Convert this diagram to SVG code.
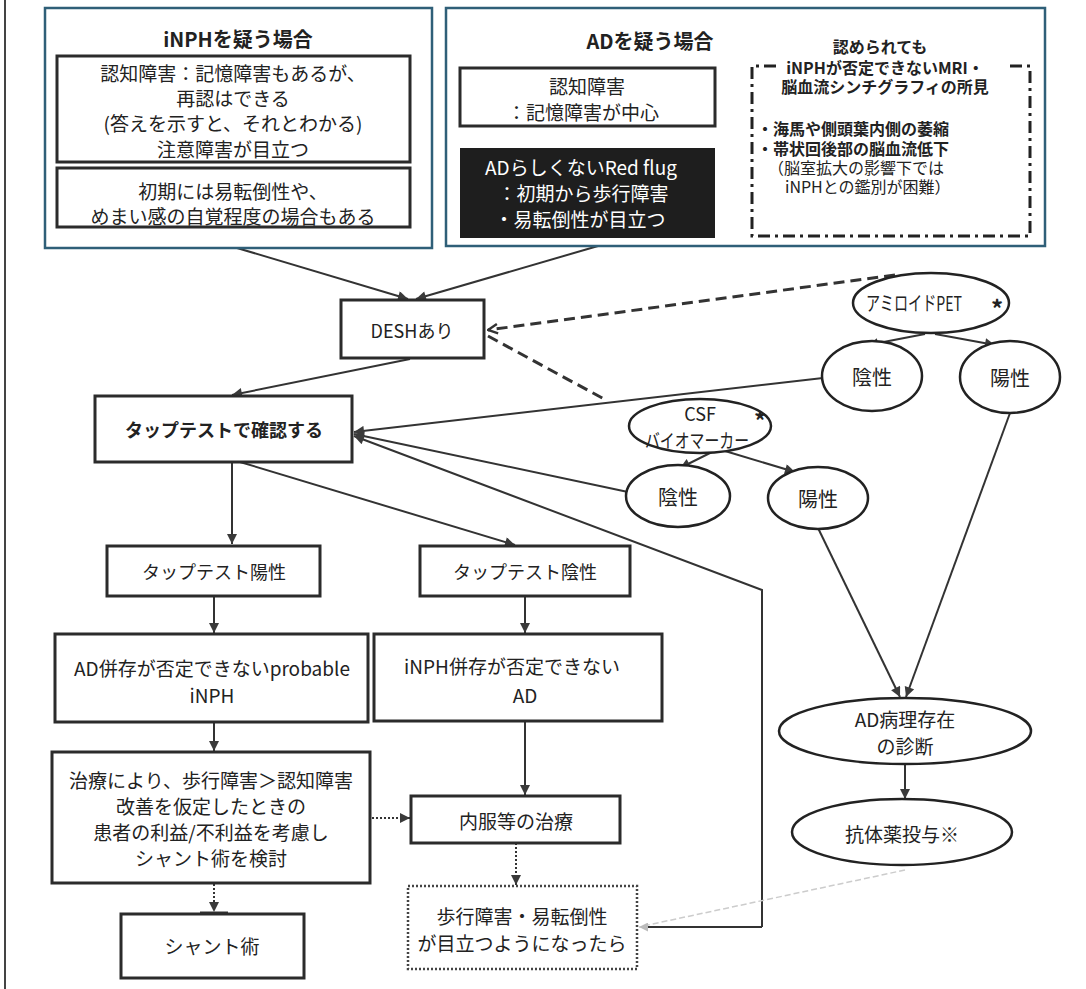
<svg xmlns="http://www.w3.org/2000/svg" width="1086" height="989" viewBox="0 0 1086 989">
<defs>
<style>
text{font-family:'Noto Sans CJK JP','Noto Sans',sans-serif;fill:#222;text-anchor:middle;dominant-baseline:central}
.bx{fill:#fff;stroke:#2b2b2b;stroke-width:3}
.bl{fill:#fff;stroke:#2f5f78;stroke-width:2.5}
.el{fill:#fff;stroke:#222;stroke-width:2.5}
.ln{fill:none;stroke:#333;stroke-width:2}
.dash{fill:none;stroke:#333;stroke-width:3;stroke-dasharray:11 6}
.dot{fill:none;stroke:#444;stroke-width:2.5;stroke-dasharray:2 2}
.t19{font-size:19px}
.t18{font-size:18px}
.t16{font-size:16px}
.b{font-weight:bold}
</style>
<marker id="ah" viewBox="0 0 10 10" refX="10" refY="5" markerWidth="12" markerHeight="10" markerUnits="userSpaceOnUse" orient="auto"><path d="M0,0 L10,5 L0,10 z" fill="#3a3a3a"/></marker>
<marker id="ao" viewBox="0 0 10 10" refX="9" refY="5" markerWidth="12" markerHeight="12" markerUnits="userSpaceOnUse" orient="auto"><path d="M1,1 L9,5 L1,9" fill="none" stroke="#333" stroke-width="2"/></marker>
<marker id="ag" viewBox="0 0 10 10" refX="10" refY="5" markerWidth="10" markerHeight="9" markerUnits="userSpaceOnUse" orient="auto"><path d="M0,0 L10,5 L0,10 z" fill="#bbb"/></marker>
</defs>
<rect width="1086" height="989" fill="#fff"/>
<line x1="5" y1="0" x2="5" y2="989" stroke="#444" stroke-width="2"/>

<g id="connectors">
<line class="ln" x1="237" y1="248" x2="408" y2="299" marker-end="url(#ah)"/>
<line class="ln" x1="598" y1="246" x2="416" y2="299" marker-end="url(#ah)"/>
<line class="dash" x1="895" y1="275" x2="488" y2="330" marker-end="url(#ao)"/>
<line class="dash" x1="488" y1="336" x2="604" y2="399"/>
<line class="ln" x1="410" y1="359" x2="232" y2="395" marker-end="url(#ah)"/>
<line class="ln" x1="925" y1="334" x2="868" y2="345" marker-end="url(#ah)"/>
<line class="ln" x1="935" y1="334" x2="995" y2="345" marker-end="url(#ah)"/>
<line class="ln" x1="823" y1="378" x2="354" y2="432" marker-end="url(#ah)"/>
<line class="ln" x1="712" y1="452" x2="680" y2="468" marker-end="url(#ah)"/>
<line class="ln" x1="725" y1="451" x2="795" y2="472" marker-end="url(#ah)"/>
<line class="ln" x1="628" y1="492" x2="354" y2="434" marker-end="url(#ah)"/>
<polyline class="ln" points="762,927 762,590 354,436" marker-end="url(#ah)"/>
<line x1="762" y1="927" x2="648" y2="927" stroke="#333" stroke-width="2"/>
<line x1="905" y1="870" x2="648" y2="925" stroke="#ccc" stroke-width="1.5" stroke-dasharray="6 3"/>
<line x1="648" y1="927" x2="639" y2="927" stroke="#bbb" stroke-width="1" marker-end="url(#ag)"/>
<line class="ln" x1="232" y1="462" x2="232" y2="544" marker-end="url(#ah)"/>
<line class="ln" x1="240" y1="462" x2="515" y2="545" marker-end="url(#ah)"/>
<line class="ln" x1="214" y1="596" x2="214" y2="633" marker-end="url(#ah)"/>
<line class="ln" x1="525" y1="596" x2="525" y2="633" marker-end="url(#ah)"/>
<line class="ln" x1="214" y1="722" x2="214" y2="751" marker-end="url(#ah)"/>
<line class="ln" x1="525" y1="722" x2="525" y2="795" marker-end="url(#ah)"/>
<line class="ln" x1="372" y1="818" x2="410" y2="818" stroke-dasharray="2 2" marker-end="url(#ah)"/>
<line class="ln" x1="516" y1="843" x2="516" y2="885" stroke-dasharray="2 2" marker-end="url(#ah)"/>
<line class="ln" x1="214" y1="884" x2="214" y2="912" stroke-dasharray="2 2" marker-end="url(#ah)"/>
<line x1="200" y1="913" x2="228" y2="913" stroke="#333" stroke-width="3"/>
<line class="ln" x1="1010" y1="413" x2="906" y2="697" marker-end="url(#ah)"/>
<line class="ln" x1="818" y1="528" x2="900" y2="697" marker-end="url(#ah)"/>
<line class="ln" x1="905" y1="764" x2="905" y2="799" marker-end="url(#ah)"/>
</g>

<g id="inph-group">
<rect class="bl" x="45" y="8" width="387" height="240"/>
<text x="238" y="38" class="b" font-size="20">iNPHを疑う場合</text>
</g>
<g id="inph-cog">
<rect class="bx" x="57" y="56" width="353" height="106"/>
<text x="233" y="72" class="t19">認知障害：記憶障害もあるが、</text>
<text x="233" y="97" class="t19">再認はできる</text>
<text x="233" y="122" class="t19">(答えを示すと、それとわかる)</text>
<text x="233" y="148" class="t19">注意障害が目立つ</text>
</g>
<g id="inph-early">
<rect class="bx" x="57" y="168" width="353" height="59"/>
<text x="233" y="190" class="t19">初期には易転倒性や、</text>
<text x="233" y="215" class="t19">めまい感の自覚程度の場合もある</text>
</g>

<g id="ad-group">
<rect class="bl" x="446" y="8" width="599" height="238"/>
<text x="650" y="40" class="b" font-size="20">ADを疑う場合</text>
</g>
<g id="ad-cog">
<rect class="bx" x="460" y="68" width="255" height="58"/>
<text x="587" y="85" class="t19">認知障害</text>
<text x="583" y="111" class="t19">：記憶障害が中心</text>
</g>
<g id="ad-redflag">
<rect x="460" y="148" width="255" height="90" fill="#1e1e1e"/>
<text x="581" y="166" class="t19" style="fill:#fff">ADらしくないRed flug</text>
<text x="583" y="192" class="t19" style="fill:#fff">：初期から歩行障害</text>
<text x="580" y="218" class="t19" style="fill:#fff">・易転倒性が目立つ</text>
</g>
<g id="ad-imaging">
<path d="M776,66 H752 V236 H1030 V66 H1006" fill="none" stroke="#222" stroke-width="3" stroke-dasharray="12 5 3 5"/>
<text x="880" y="46" class="b t16">認められても</text>
<text x="885" y="67" class="b t16">iNPHが否定できないMRI・</text>
<text x="885" y="86" class="b t16">脳血流シンチグラフィの所見</text>
<text x="757" y="128" class="b t16" style="text-anchor:start">・海馬や側頭葉内側の萎縮</text>
<text x="757" y="148" class="b t16" style="text-anchor:start">・帯状回後部の脳血流低下</text>
<text x="768" y="167" class="t16" style="text-anchor:start">（脳室拡大の影響下では</text>
<text x="785" y="186" class="t16" style="text-anchor:start">iNPHとの鑑別が困難）</text>
</g>

<g id="desh">
<rect class="bx" x="341" y="300" width="143" height="58"/>
<text x="412" y="330" class="t18">DESHあり</text>
</g>
<g id="amyloid-pet">
<ellipse class="el" cx="931" cy="303" rx="78" ry="30"/>
<text x="914" y="302" font-size="20" textLength="96" lengthAdjust="spacingAndGlyphs">アミロイドPET</text>
<text x="997" y="307" font-size="24" class="b">*</text>
</g>
<g id="pet-neg">
<ellipse class="el" cx="872" cy="376" rx="50" ry="35"/>
<text x="872" y="376" font-size="20">陰性</text>
</g>
<g id="pet-pos">
<ellipse class="el" cx="1010" cy="377" rx="50" ry="36"/>
<text x="1010" y="377" font-size="20">陽性</text>
</g>
<g id="csf">
<ellipse class="el" cx="700" cy="426" rx="71" ry="27"/>
<text x="700" y="413" class="t18">CSF</text>
<text x="697" y="439" font-size="19" textLength="104" lengthAdjust="spacingAndGlyphs">バイオマーカー</text>
<text x="760" y="419" font-size="24" class="b">*</text>
</g>
<g id="csf-neg">
<ellipse class="el" cx="678" cy="496" rx="52" ry="31"/>
<text x="678" y="496" font-size="20">陰性</text>
</g>
<g id="csf-pos">
<ellipse class="el" cx="818" cy="498" rx="50" ry="31"/>
<text x="818" y="498" font-size="20">陽性</text>
</g>
<g id="taptest">
<rect class="bx" x="95" y="396" width="257" height="66"/>
<text x="224" y="429" class="t18" font-weight="600">タップテストで確認する</text>
</g>
<g id="tap-pos">
<rect class="bx" x="107" y="546" width="213" height="50"/>
<text x="214" y="571" class="t18">タップテスト陽性</text>
</g>
<g id="tap-neg">
<rect class="bx" x="420" y="546" width="210" height="50"/>
<text x="525" y="571" class="t18">タップテスト陰性</text>
</g>
<g id="probable-inph">
<rect class="bx" x="55" y="634" width="313" height="88"/>
<text x="212" y="667" class="t19">AD併存が否定できないprobable</text>
<text x="212" y="694" class="t19">iNPH</text>
</g>
<g id="ad-inph">
<rect class="bx" x="374" y="634" width="288" height="87"/>
<text x="512" y="665" class="t19">iNPH併存が否定できない</text>
<text x="525" y="694" class="t19">AD</text>
</g>
<g id="consider-shunt">
<rect class="bx" x="52" y="752" width="318" height="131"/>
<text x="211" y="779" class="t19">治療により、歩行障害＞認知障害</text>
<text x="211" y="805" class="t19">改善を仮定したときの</text>
<text x="211" y="831" class="t19">患者の利益/不利益を考慮し</text>
<text x="211" y="857" class="t19">シャント術を検討</text>
</g>
<g id="oral">
<rect class="bx" x="411" y="796" width="209" height="47"/>
<text x="516" y="820" class="t19">内服等の治療</text>
</g>
<g id="worsen">
<rect class="dot" x="408" y="886" width="229" height="83"/>
<text x="522" y="915" class="t19">歩行障害・易転倒性</text>
<text x="522" y="942" class="t19">が目立つようになったら</text>
</g>
<g id="shunt">
<rect class="bx" x="121" y="914" width="183" height="64"/>
<text x="212" y="945" class="t19">シャント術</text>
</g>
<g id="ad-path">
<ellipse class="el" cx="905" cy="731" rx="126" ry="33"/>
<text x="905" y="718" class="t19">AD病理存在</text>
<text x="905" y="745" class="t19">の診断</text>
</g>
<g id="antibody">
<ellipse class="el" cx="902" cy="832" rx="110" ry="33"/>
<text x="902" y="833" class="t19">抗体薬投与※</text>
</g>
</svg>
